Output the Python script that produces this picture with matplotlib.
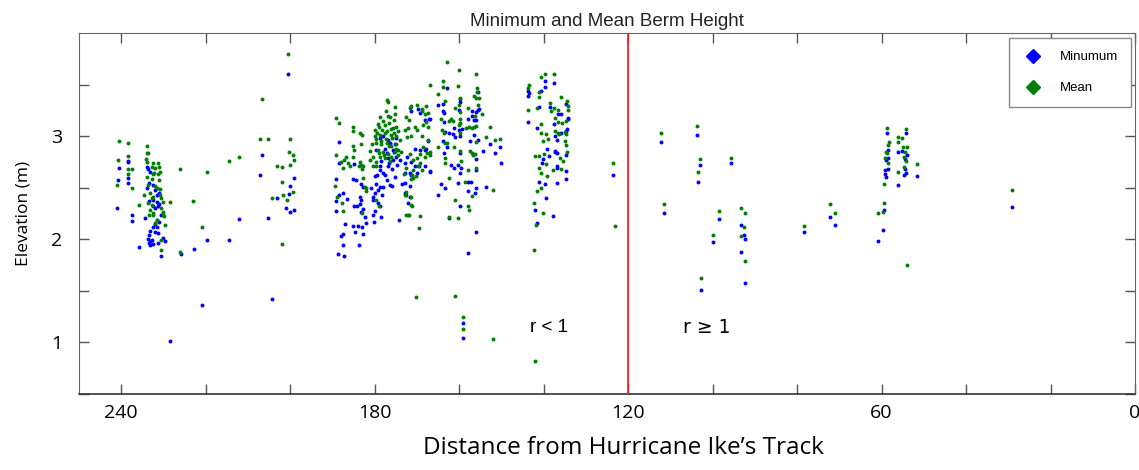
import numpy as np
import matplotlib
matplotlib.use("Agg")
import matplotlib.pyplot as plt
from matplotlib.lines import Line2D

# --- data: (distance from track, elevation m) ---
minimum = [
    # ~240-225
    (238.3, 2.76), (238.3, 2.75), (240.5, 2.69), (238.3, 2.59), (238.3, 2.55), (240.7, 2.57),
    (241.1, 2.30), (237.4, 2.24), (237.4, 2.18), (235.7, 1.93), (234.0, 2.70), (233.6, 2.68),
    (233.2, 2.65), (233.4, 2.55), (232.4, 2.53), (234.0, 2.50), (232.0, 2.48), (231.0, 2.45),
    (231.6, 2.43), (233.4, 2.37), (232.4, 2.38), (231.6, 2.36), (231.0, 2.34), (232.4, 2.32),
    (231.2, 2.32), (232.0, 2.30), (230.5, 2.24), (234.5, 2.21), (231.5, 2.19), (231.0, 2.17),
    (232.0, 2.15), (232.4, 2.12), (231.6, 2.12), (233.2, 2.08), (232.0, 2.07), (231.2, 2.06),
    (233.4, 2.04), (233.6, 2.00), (232.8, 1.99), (233.2, 1.98), (233.4, 1.96), (232.4, 1.95),
    (233.2, 1.94), (231.2, 1.96), (230.1, 2.01), (229.7, 1.98), (230.5, 1.84), (225.9, 1.86),
    (222.8, 1.91), (219.6, 1.99), (221.0, 1.36), (228.5, 1.01), (212.1, 2.20), (214.4, 1.99),
    # ~208-198
    (200.5, 3.60), (206.8, 2.82), (207.1, 2.62), (199.0, 2.59), (200.0, 2.52), (200.3, 2.44),
    (203.1, 2.40), (200.9, 2.30), (200.0, 2.26), (199.2, 2.28), (205.3, 2.21), (204.4, 1.42),
    # ~190-167
    (188.5, 2.94), (188.4, 2.74), (185.0, 2.73), (189.1, 2.58), (185.1, 2.58), (184.5, 2.57),
    (183.2, 2.54), (182.8, 2.51), (188.4, 2.43), (187.5, 2.45), (186.5, 2.39), (189.2, 2.37),
    (189.2, 2.27), (183.4, 2.41), (183.2, 2.38), (183.5, 2.34), (185.0, 2.32), (184.2, 2.32),
    (182.8, 2.29), (183.2, 2.26), (187.1, 2.15), (185.1, 2.13), (183.9, 2.13), (182.9, 2.12),
    (182.1, 2.16), (182.4, 2.22), (184.7, 2.07), (182.8, 2.05), (187.5, 2.05), (187.9, 2.03),
    (187.6, 1.94), (183.7, 1.94), (188.6, 1.86), (187.3, 1.84),
    (178.8, 2.98), (178.0, 3.00), (176.8, 2.96), (175.0, 2.98), (176.4, 2.93), (175.3, 2.92),
    (177.6, 2.88), (179.6, 2.87), (175.6, 2.87), (174.9, 2.80), (176.8, 2.79), (175.6, 2.77),
    (174.1, 2.77), (176.6, 2.74), (178.8, 2.71), (180.0, 2.61), (178.8, 2.67), (178.0, 2.64),
    (176.8, 2.71), (177.6, 2.62), (179.6, 2.54), (178.8, 2.51), (179.2, 2.48), (180.0, 2.45),
    (180.4, 2.41), (178.0, 2.51), (176.4, 2.53), (175.8, 2.52), (180.4, 2.38), (179.2, 2.35),
    (178.8, 2.32), (180.0, 2.27), (180.4, 2.24), (180.2, 2.17), (178.4, 2.22), (174.3, 2.19),
    (177.2, 2.84), (175.4, 2.85), (178.4, 2.76), (176.0, 2.68), (174.8, 2.72), (179.4, 2.62),
    (177.0, 2.57), (175.3, 2.60), (180.8, 2.50), (178.2, 2.43),
    (171.5, 3.24), (169.7, 3.26), (169.3, 3.22), (168.2, 3.16), (167.2, 3.17), (167.4, 2.95),
    (167.8, 2.88), (168.2, 2.87), (169.2, 2.87), (170.5, 2.88), (172.3, 2.80), (172.9, 2.74),
    (171.3, 2.75), (169.5, 2.71), (168.2, 2.71), (170.5, 2.71), (172.9, 2.64), (171.7, 2.64),
    (170.0, 2.64), (171.3, 2.62), (167.0, 2.66), (173.5, 2.54), (172.9, 2.55), (171.7, 2.52),
    (172.9, 2.45), (172.5, 2.43), (171.7, 2.41), (172.1, 2.35), (172.1, 2.24),
    # ~167-150
    (163.0, 3.47), (155.6, 3.43), (159.9, 3.36), (164.9, 3.30), (163.8, 3.31), (159.7, 3.33),
    (155.6, 3.25), (156.0, 3.23), (156.9, 3.24), (155.2, 3.26), (163.9, 3.24), (163.7, 3.22),
    (160.1, 3.25), (157.0, 3.20), (167.0, 3.17), (157.8, 3.17), (156.6, 3.16), (156.0, 3.16),
    (163.7, 3.14), (161.2, 3.08), (159.4, 3.07), (160.1, 3.06), (163.4, 3.04), (162.3, 3.03),
    (161.5, 3.02), (161.1, 2.99), (159.8, 3.00), (156.6, 3.01), (155.6, 2.96), (163.8, 2.95),
    (157.4, 2.95), (152.8, 2.92), (150.3, 2.89), (163.0, 2.89), (154.4, 2.86), (163.7, 2.84),
    (159.8, 2.84), (151.6, 2.84), (156.0, 2.78), (150.2, 2.74), (162.0, 2.72), (160.4, 2.72),
    (161.2, 2.69), (159.5, 2.69), (156.1, 2.67), (167.0, 2.65), (159.7, 2.64), (164.2, 2.54),
    (163.3, 2.50), (160.3, 2.55), (157.8, 2.56), (157.3, 2.56), (156.1, 2.50), (153.7, 2.51),
    (157.9, 2.47), (156.2, 2.45), (165.1, 2.43), (159.9, 2.32), (162.4, 2.21), (156.1, 2.07),
    (157.9, 1.87), (159.0, 1.19), (159.1, 1.04),
    # ~144-134
    (139.7, 3.53), (137.6, 3.52), (139.7, 3.48), (143.6, 3.44), (143.4, 3.42), (143.6, 3.39),
    (140.7, 3.44), (141.0, 3.28), (143.6, 3.14), (141.5, 3.08), (138.4, 3.28), (136.7, 3.21),
    (135.8, 3.21), (134.7, 3.31), (134.2, 3.17), (134.3, 3.18), (137.6, 3.12), (134.5, 3.07),
    (134.7, 3.05), (135.8, 3.03), (137.4, 3.00), (136.9, 2.96), (139.3, 2.88), (137.4, 2.86),
    (136.9, 2.84), (137.3, 2.85), (134.7, 2.82), (138.8, 2.81), (140.1, 2.78), (140.3, 2.74),
    (136.9, 2.71), (136.9, 2.69), (134.7, 2.66), (134.7, 2.58), (141.0, 2.56), (139.8, 2.54),
    (136.9, 2.55), (139.4, 2.40), (142.0, 2.28), (137.9, 2.23), (141.5, 2.16),
    # r >= 1 side and the lone point near 124
    (123.6, 2.62), (112.3, 2.94), (111.4, 2.25), (103.7, 3.01), (103.1, 2.72), (103.4, 2.56),
    (102.8, 1.51), (98.5, 2.20), (100.0, 1.97), (95.7, 2.74), (93.4, 2.14), (92.6, 2.04),
    (92.3, 2.00), (93.4, 1.88), (92.4, 1.58), (78.3, 2.07), (72.1, 2.22), (71.1, 2.14),
    (58.7, 3.03), (58.5, 2.87), (58.5, 2.79), (58.9, 2.77), (58.5, 2.68), (59.3, 2.67),
    (59.3, 2.63), (59.0, 2.60), (59.4, 2.28), (59.6, 2.09), (60.9, 1.98), (54.2, 3.03),
    (55.2, 2.86), (56.0, 2.85), (54.1, 2.82), (54.4, 2.78), (54.5, 2.68), (54.3, 2.64),
    (54.8, 2.62), (51.6, 2.61), (56.0, 2.53), (29.1, 2.31),
]

mean = [
    # ~242-210
    (240.5, 2.95), (238.3, 2.93), (240.7, 2.77), (238.3, 2.81), (238.3, 2.68), (237.4, 2.68),
    (238.3, 2.63), (237.5, 2.50), (241.1, 2.53), (233.8, 2.90), (234.0, 2.84), (233.6, 2.84),
    (234.2, 2.78), (233.8, 2.75), (232.4, 2.74), (231.2, 2.74), (232.8, 2.70), (232.0, 2.69),
    (231.0, 2.70), (232.2, 2.64), (232.6, 2.63), (231.2, 2.63), (230.8, 2.65), (234.0, 2.60),
    (232.8, 2.58), (231.0, 2.57), (233.6, 2.53), (232.0, 2.52), (231.6, 2.50), (230.8, 2.49),
    (234.6, 2.43), (233.2, 2.45), (232.4, 2.41), (230.5, 2.40), (230.8, 2.43), (232.8, 2.40),
    (233.6, 2.35), (232.8, 2.33), (230.2, 2.36), (228.5, 2.36), (235.7, 2.33), (233.2, 2.28),
    (232.6, 2.25), (233.4, 2.24), (232.4, 2.24), (230.2, 2.24), (229.9, 2.23), (230.1, 2.26),
    (230.5, 2.30), (231.6, 2.19), (229.7, 2.14), (232.0, 2.16), (230.5, 1.99), (230.5, 1.90),
    (226.1, 2.68), (226.1, 1.88), (219.6, 2.65), (223.0, 2.37), (221.0, 2.12), (214.4, 2.76),
    (212.1, 2.80),
    # ~208-198
    (200.5, 3.80), (206.8, 3.36), (207.1, 2.97), (205.3, 2.97), (200.0, 2.97), (200.3, 2.85),
    (199.3, 2.82), (199.0, 2.77), (200.0, 2.72), (203.1, 2.71), (202.0, 2.70), (202.0, 2.56),
    (199.3, 2.46), (204.4, 2.40), (201.8, 2.43), (200.8, 2.38), (202.0, 1.95),
    # ~190-167
    (189.1, 3.18), (188.5, 3.13), (185.1, 3.09), (185.1, 3.05), (183.5, 3.03), (183.0, 3.01),
    (183.3, 2.92), (185.1, 2.90), (185.0, 2.87), (185.1, 2.80), (189.2, 2.82), (186.9, 2.80),
    (187.3, 2.77), (187.9, 2.75), (186.3, 2.74), (185.9, 2.71), (187.5, 2.69), (183.4, 2.75),
    (183.2, 2.72), (182.8, 2.71), (183.7, 2.71), (183.0, 2.68), (180.4, 2.71), (179.8, 2.71),
    (182.8, 2.59), (189.5, 2.52), (182.4, 2.51), (182.0, 2.50), (182.1, 2.47), (188.9, 2.41),
    (187.8, 2.35), (187.6, 2.27), (182.9, 2.25),
    (177.1, 3.35), (176.8, 3.33), (175.3, 3.28), (178.8, 3.19), (177.4, 3.24), (176.4, 3.19),
    (175.3, 3.21), (175.5, 3.16), (180.0, 3.06), (179.0, 3.09), (177.6, 3.11), (176.6, 3.13),
    (175.7, 3.08), (174.9, 3.09), (174.5, 3.05), (180.0, 3.00), (178.8, 3.01), (177.6, 3.03),
    (176.1, 3.01), (174.9, 3.00), (174.1, 2.96), (179.6, 2.93), (178.4, 2.92), (177.2, 2.93),
    (176.1, 2.90), (174.9, 2.92), (179.2, 2.87), (178.0, 2.85), (176.8, 2.83), (175.3, 2.85),
    (174.5, 2.87), (178.8, 2.80), (177.6, 2.79), (180.4, 2.80), (181.2, 2.77), (176.1, 2.80),
    (179.6, 2.75), (179.6, 2.38), (179.0, 2.32),
    (179.2, 3.12), (178.2, 3.06), (177.0, 3.05), (176.2, 3.07), (175.8, 2.98), (177.4, 2.97),
    (178.5, 2.95), (179.8, 2.97), (180.6, 2.92), (176.6, 2.90), (175.0, 2.88), (177.8, 2.82),
    (176.3, 2.76), (174.6, 2.82), (179.0, 2.84), (181.0, 2.86), (175.5, 3.03), (178.0, 3.15),
    (176.9, 3.20), (179.5, 3.03),
    (171.3, 3.29), (171.7, 3.27), (170.0, 3.30), (168.9, 3.24), (168.7, 3.26), (167.8, 3.29),
    (168.1, 3.21), (167.4, 3.22), (172.5, 3.19), (172.0, 3.16), (170.5, 3.09), (170.1, 3.06),
    (168.6, 3.11), (167.8, 3.14), (167.4, 3.09), (172.1, 3.08), (172.9, 3.06), (171.3, 3.00),
    (172.3, 2.99), (168.9, 3.00), (167.4, 2.96), (168.6, 2.89), (167.6, 2.84), (167.0, 2.85),
    (173.7, 2.85), (171.7, 2.83), (170.9, 2.77), (169.9, 2.79), (169.3, 2.83), (168.2, 2.80),
    (169.3, 2.74), (172.7, 2.69), (170.9, 2.67), (169.7, 2.71), (168.9, 2.67), (170.9, 2.59),
    (171.3, 2.58), (173.1, 2.63), (171.2, 2.62), (170.3, 2.61), (172.5, 2.46), (171.3, 2.41),
    (172.9, 2.43), (171.3, 2.33), (171.1, 2.32), (172.5, 2.24), (171.9, 2.24), (169.3, 2.23),
    (169.5, 2.11), (170.3, 1.44),
    # ~167-150
    (163.0, 3.72), (160.1, 3.64), (156.0, 3.60), (163.8, 3.53), (163.9, 3.48), (160.3, 3.49),
    (155.8, 3.47), (155.8, 3.43), (165.0, 3.41), (159.9, 3.37), (156.6, 3.39), (156.0, 3.37),
    (155.3, 3.37), (163.4, 3.34), (160.1, 3.30), (161.0, 3.27), (157.8, 3.27), (155.6, 3.30),
    (159.7, 3.23), (156.3, 3.20), (154.5, 3.21), (167.0, 3.50), (164.2, 3.17), (162.0, 3.17),
    (162.4, 3.15), (161.4, 3.15), (159.7, 3.17), (159.9, 3.13), (160.1, 3.11), (158.5, 3.08),
    (157.6, 3.09), (157.0, 3.08), (156.4, 3.09), (156.0, 3.10), (152.8, 3.09), (164.0, 3.06),
    (163.6, 3.03), (159.7, 3.03), (153.7, 2.99), (151.6, 2.96), (150.3, 2.97), (163.3, 2.93),
    (162.9, 2.93), (156.0, 2.94), (165.0, 2.89), (161.3, 2.89), (159.9, 2.86), (157.5, 2.86),
    (157.0, 2.84), (156.2, 2.83), (156.7, 2.82), (167.0, 2.82), (163.3, 2.79), (159.6, 2.76),
    (163.4, 2.74), (156.1, 2.69), (157.9, 2.67), (162.4, 2.59), (158.6, 2.56), (152.0, 2.48),
    (157.0, 2.42), (161.1, 2.38), (157.8, 2.32), (157.7, 2.28), (162.3, 2.22), (160.4, 2.21),
    (160.9, 1.45), (159.0, 1.25), (159.1, 1.13), (152.0, 1.03),
    # ~144-134
    (140.6, 3.57), (139.7, 3.60), (137.6, 3.60), (143.4, 3.50), (143.6, 3.47), (141.0, 3.43),
    (141.1, 3.38), (143.6, 3.25), (141.5, 3.27), (140.7, 3.12), (138.4, 3.32), (137.6, 3.27),
    (138.2, 3.24), (136.6, 3.25), (135.8, 3.38), (134.4, 3.34), (134.3, 3.29), (134.3, 3.25),
    (134.6, 3.15), (137.4, 3.18), (135.6, 3.13), (136.6, 3.14), (134.9, 3.04), (136.6, 3.03),
    (136.3, 3.02), (137.4, 3.05), (138.9, 2.97), (140.1, 2.95), (140.6, 3.03), (139.4, 3.02),
    (134.9, 2.95), (134.7, 3.02), (134.7, 2.91), (134.5, 2.85), (140.0, 2.83), (142.0, 2.81),
    (141.0, 2.81), (136.2, 2.79), (135.5, 2.76), (139.4, 2.73), (141.1, 2.69), (135.8, 2.68),
    (137.9, 2.67), (140.6, 2.64), (139.2, 2.61), (140.7, 2.50), (141.5, 2.47), (142.3, 2.35),
    (140.2, 2.25), (141.7, 2.14), (142.3, 1.90), (142.0, 0.82),
    # r >= 1 side and the points near 124
    (123.6, 2.74), (123.2, 2.13), (112.3, 3.03), (111.4, 2.34), (103.7, 3.10), (103.1, 2.78),
    (103.4, 2.65), (102.8, 1.62), (98.5, 2.27), (100.0, 2.04), (95.7, 2.79), (93.4, 2.30),
    (92.3, 2.25), (92.6, 2.12), (93.4, 2.03), (92.4, 1.79), (78.3, 2.13), (72.1, 2.34),
    (71.1, 2.25), (58.7, 3.08), (58.3, 2.94), (58.5, 2.91), (59.0, 2.85), (58.6, 2.84),
    (59.3, 2.79), (58.5, 2.74), (59.4, 2.54), (59.4, 2.35), (59.6, 2.26), (60.9, 2.25),
    (54.3, 3.07), (56.0, 2.99), (55.2, 2.98), (56.0, 2.94), (55.0, 2.89), (54.1, 2.89),
    (54.4, 2.85), (54.8, 2.80), (54.3, 2.76), (51.6, 2.73), (54.8, 2.70), (56.0, 2.65),
    (54.1, 1.75), (29.1, 2.48),
]

threshold = 120          # r = 1 boundary
x_major = [240, 180, 120, 60, 0]
y_major = [1, 2, 3]

min_x, min_y = np.array(minimum).T
mean_x, mean_y = np.array(mean).T

fig = plt.figure(figsize=(11.39, 4.70), dpi=100)
ax = fig.add_axes([0.0694, 0.1617, 0.9271, 0.7681])

ax.scatter(min_x, min_y, s=8, color="#0000ff", marker="o", linewidths=0, zorder=3)
ax.scatter(mean_x, mean_y, s=8, color="#008000", marker="o", linewidths=0, zorder=3)
ax.axvline(threshold, color="#ff2020", lw=1.3, zorder=4)

ax.set_xlim(250, 0)
ax.set_ylim(0.5, 4.0)

# ticks every 20 / 0.5, labels only at some of them
xt = np.arange(0, 241, 20)
ax.set_xticks(xt)
ax.set_xticklabels([str(v) if v in x_major else "" for v in xt])
yt = np.arange(0.5, 4.0, 0.5)
ax.set_yticks(yt)
ax.set_yticklabels([str(int(v)) if v in y_major else "" for v in yt])
ax.tick_params(direction="in", length=7, width=1.0, color="#555555",
               top=True, right=True, labelsize=14)
ax.tick_params(axis="x", pad=7)
ax.tick_params(axis="y", pad=12)
for lab in ax.get_xticklabels() + ax.get_yticklabels():
    lab.set_fontfamily("Open Sans")

for side in ["left", "right", "top"]:
    ax.spines[side].set_color("#666666")
ax.spines["bottom"].set_color("#333333")
ax.spines["bottom"].set_linewidth(1.2)

ax.set_title("Minimum and Mean Berm Height", fontsize=13.5, family="Liberation Sans",
             color="#222222", pad=5)
ax.set_ylabel("Elevation (m)", fontsize=12.5, family="Open Sans", labelpad=14)
ax.set_xlabel("Distance from Hurricane Ike\u2019s Track", fontsize=17.5, family="Open Sans")
ax.xaxis.set_label_coords(0.516, -0.115)

ax.text(138.7, 1.14, "r < 1", fontsize=13.5, family="Liberation Sans", ha="center", va="center")
ax.text(101.5, 1.14, "r \u2265 1", fontsize=13.5, family="DejaVu Sans", ha="center", va="center")

handles = [Line2D([], [], ls="none", marker="D", ms=7, color="#0000ff"),
           Line2D([], [], ls="none", marker="D", ms=7, color="#008000")]
leg = ax.legend(handles, ["Minumum", "Mean"], loc="upper right", bbox_to_anchor=(0.9962, 0.986),
                borderaxespad=0, fancybox=False, edgecolor="#888888", framealpha=1,
                borderpad=1.0, labelspacing=1.4, handlelength=1.5, handletextpad=1.3,
                prop={"family": "Liberation Sans", "size": 9.5})
leg.get_frame().set_linewidth(1.0)

fig.savefig("out.png", dpi=100)
